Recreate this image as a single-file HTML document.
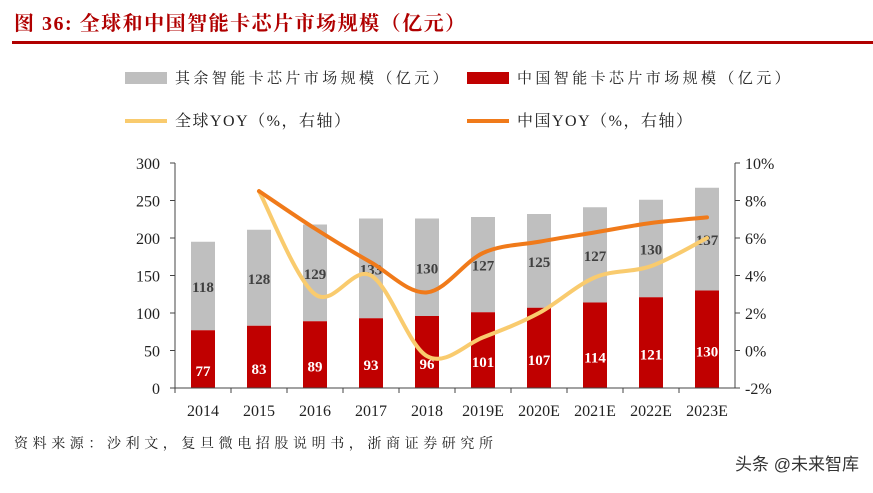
<!DOCTYPE html>
<html><head><meta charset="utf-8"><style>
body{margin:0;width:873px;height:488px;background:#fff;overflow:hidden;font-family:"Liberation Serif","Noto Serif CJK SC",serif;}
</style></head><body>
<svg width="873" height="488" xmlns="http://www.w3.org/2000/svg" font-family="Liberation Serif, Noto Serif CJK SC, serif">
<text x="14" y="30" font-size="20" font-weight="bold" fill="#B00000" letter-spacing="1.5">图 36:  全球和中国智能卡芯片市场规模（亿元）</text>
<rect x="12" y="41" width="861" height="3" fill="#B00000"/>
<rect x="125" y="72" width="42" height="12" fill="#BFBFBF"/>
<text x="175" y="83" font-size="15" fill="#222" letter-spacing="3.4">其余智能卡芯片市场规模（亿元）</text>
<rect x="467" y="72" width="42" height="12" fill="#C00000"/>
<text x="517" y="83" font-size="15" fill="#222" letter-spacing="3.4">中国智能卡芯片市场规模（亿元）</text>
<rect x="125" y="119" width="42" height="4" fill="#F9CB6E"/>
<text x="175" y="126" font-size="16" fill="#222" letter-spacing="1.5">全球YOY（%，右轴）</text>
<rect x="467" y="119" width="42" height="4" fill="#F07A1A"/>
<text x="517" y="126" font-size="16" fill="#222" letter-spacing="1.5">中国YOY（%，右轴）</text>
<g id="chart"></g>
<text x="14" y="448" font-size="14" fill="#222" letter-spacing="4.6">资料来源：沙利文，复旦微电招股说明书，浙商证券研究所</text>
<text x="735" y="470" font-size="17" fill="#333" font-family="Liberation Sans, Noto Sans CJK SC, sans-serif">头条 @未来智库</text>
</svg>
<script>
var g=document.getElementById('chart'),s='';
var other=[118,128,129,133,130,127,125,127,130,137],cn=[77,83,89,93,96,101,107,114,121,130];
var yrs=['2014','2015','2016','2017','2018','2019E','2020E','2021E','2022E','2023E'];
function Y(v){return 388-v*0.75;}
function P(p){return 350.5-p*18.75;}
for(var i=0;i<10;i++){var cx=203+56*i;
s+='<rect x="'+(cx-12)+'" y="'+Y(cn[i]+other[i])+'" width="24" height="'+(other[i]*0.75)+'" fill="#BFBFBF"/>';
s+='<rect x="'+(cx-12)+'" y="'+Y(cn[i])+'" width="24" height="'+(cn[i]*0.75)+'" fill="#C00000"/>';
s+='<text x="'+cx+'" y="'+(Y(cn[i]+other[i]/2)+6)+'" font-size="15" font-weight="bold" fill="#404040" text-anchor="middle">'+other[i]+'</text>';
s+='<text x="'+cx+'" y="'+(Y(cn[i]/2)+17)+'" font-size="15" font-weight="bold" fill="#fff" text-anchor="middle">'+cn[i]+'</text>';
s+='<text x="'+cx+'" y="416" font-size="16" fill="#222" text-anchor="middle">'+yrs[i]+'</text>';
s+='<line x1="'+(175+56*i)+'" y1="388" x2="'+(175+56*i)+'" y2="393" stroke="#444"/>';}
s+='<line x1="175" y1="388" x2="735" y2="388" stroke="#444"/><line x1="175" y1="163" x2="175" y2="388" stroke="#444"/><line x1="735" y1="163" x2="735" y2="388" stroke="#444"/>';
for(var v=0;v<=300;v+=50){var y=Y(v);s+='<line x1="170" y1="'+y+'" x2="175" y2="'+y+'" stroke="#444"/><text x="160" y="'+(y+6)+'" font-size="16" fill="#222" text-anchor="end">'+v+'</text>';}
for(var p=-2;p<=10;p+=2){var y=P(p);s+='<line x1="735" y1="'+y+'" x2="740" y2="'+y+'" stroke="#444"/><text x="745" y="'+(y+6)+'" font-size="16" fill="#222">'+p+'%</text>';}
function path(pts){var d='M'+pts[0][0]+','+pts[0][1];for(var i=0;i<pts.length-1;i++){var p0=pts[i-1]||pts[i],p1=pts[i],p2=pts[i+1],p3=pts[i+2]||p2;
d+=' C'+(p1[0]+(p2[0]-p0[0])/6)+','+(p1[1]+(p2[1]-p0[1])/6)+' '+(p2[0]-(p3[0]-p1[0])/6)+','+(p2[1]-(p3[1]-p1[1])/6)+' '+p2[0]+','+p2[1];}return d;}
var gl=[8.5,3,4,-0.3,0.7,2,3.9,4.5,6],ch=[8.5,6.5,4.7,3.1,5.2,5.8,6.3,6.8,7.1];
function pts(a){return a.map(function(v,i){return [259+56*i,P(v)];});}
s+='<path d="'+path(pts(gl))+'" fill="none" stroke="#F9CB6E" stroke-width="4" stroke-linecap="round"/>';
s+='<path d="'+path(pts(ch))+'" fill="none" stroke="#F07A1A" stroke-width="4" stroke-linecap="round"/>';
g.innerHTML=s;
</script>
</body></html>
